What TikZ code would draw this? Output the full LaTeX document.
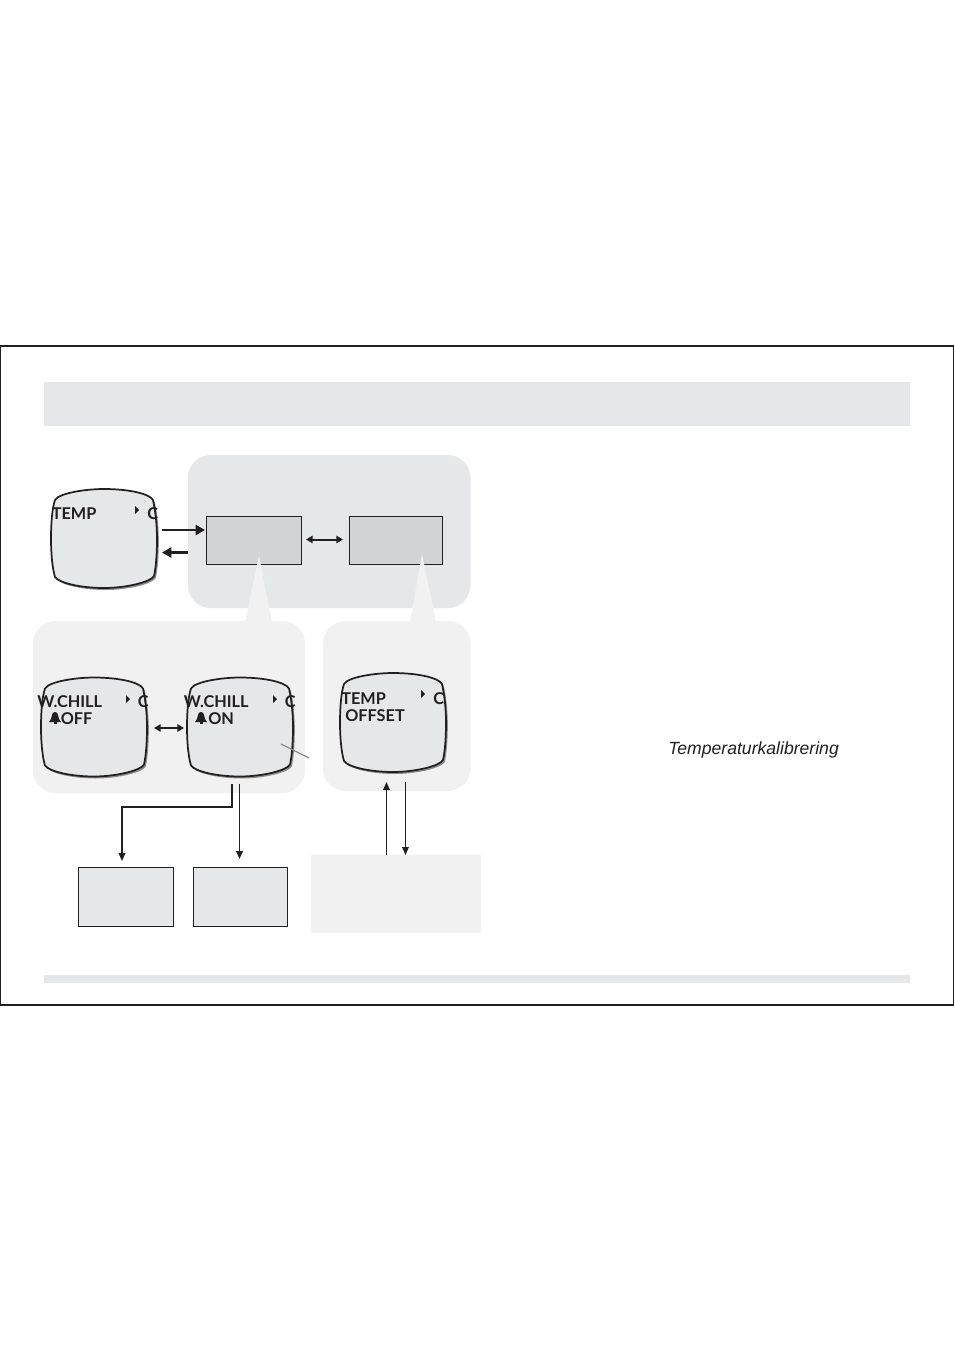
\documentclass[tikz,border=0pt]{standalone}
\usepackage{fontspec}
\setmainfont{Liberation Sans}
\newfontfamily\osdfont{Lato}[UprightFont=* Bold]
\usetikzlibrary{arrows.meta}
\definecolor{barg}{HTML}{E6E7E8}
\definecolor{midg}{HTML}{D1D3D4}
\definecolor{lightg}{HTML}{F1F1F2}
\definecolor{ink}{HTML}{231F20}
\tikzset{
  panelbox/.style={fill=#1,draw=none,rounded corners=17pt},
  menubox/.style={draw=ink,line width=1.1pt,fill=#1,inner sep=0,anchor=north west},
  osd/.style={font=\osdfont\fontsize{12.2pt}{13pt}\selectfont,text=ink,inner sep=0,anchor=base west},
  thickarrow/.style={draw=ink,line width=2.2pt,-{Triangle[length=7pt,width=7.5pt]}},
  dblarrow/.style={draw=ink,line width=1.5pt,{Triangle[length=5pt,width=5.5pt]}-{Triangle[length=5pt,width=5.5pt]}},
  thinarrow/.style={draw=ink,line width=0.9pt,-{Triangle[length=6pt,width=5pt]}},
}
\newcommand{\screenpath}{(4,11) .. controls (8,4) and (35,0) .. (53,0) .. controls (75,0) and (98,4) .. (102,11) .. controls (105,25) and (106,38) .. (106,50) .. controls (106,65) and (105,78) .. (103,87) .. controls (100,93) and (75,99) .. (53,99) .. controls (30,99) and (8,94) .. (4,88) .. controls (1,78) and (0,62) .. (0,50) .. controls (0,35) and (1,20) .. (4,11) -- cycle}
\newcommand{\monitor}[3]{%
  \begin{scope}[shift={(#2,#3)}]
    \fill[black!45] [shift={(1.8,2)}] \screenpath;
    \draw[draw=ink,line width=1.3pt,fill=barg] \screenpath;
    \coordinate (#1) at (53,50);
  \end{scope}}
\newcommand{\cursor}[2]{\fill[ink] (#1,#2) -- (#1+4,#2+4) -- (#1,#2+8) -- cycle;}
\newcommand{\bell}[2]{\fill[ink] (#1-6,#2+8) -- (#1+6,#2+8) -- (#1+4,#2+5) -- (#1+3,#2+1) arc (0:-180:3) -- (#1-4,#2+5) -- cycle; \fill[ink] (#1-1.5,#2+8) rectangle (#1+1.5,#2+10);}
\begin{document}
\begin{tikzpicture}[x=0.75pt,y=-0.75pt]
\useasboundingbox (0,0) rectangle (954,1351);
\fill[white] (0,0) rectangle (954,1351);
\draw[ink,line width=0.8pt] (0.5,346) rectangle (953.5,1005);
\fill[barg] (44,382) rectangle (910,425.5);
\fill[barg] (44,975) rectangle (910,983);
% panels
\fill[panelbox=barg] (188,455) rectangle (470.5,608);
\fill[panelbox=lightg] (33,621) rectangle (305,793);
\fill[panelbox=lightg] (323,621) rectangle (470.5,791);
% menu boxes
\node[menubox=midg,minimum width=71.25pt,minimum height=36pt] (boxa) at (206,516) {};
\node[menubox=midg,minimum width=69.75pt,minimum height=36pt] (boxb) at (349,516) {};
\node[menubox=barg,minimum width=71.25pt,minimum height=44.25pt] (boxc) at (78,867) {};
\node[menubox=barg,minimum width=70.5pt,minimum height=44.25pt] (boxd) at (193,867) {};
\node[fill=lightg,draw=none,inner sep=0,anchor=north west,minimum width=127.5pt,minimum height=58.5pt] (boxe) at (311,855) {};
% callouts
\fill[lightg] (259,556) -- (272,622) -- (245,622) -- cycle;
\fill[lightg] (422,554) -- (436,622) -- (410,622) -- cycle;
% monitors
\monitor{mona}{51}{489}
\monitor{monb}{41}{677.5}
\monitor{monc}{187}{677.5}
\monitor{mond}{340}{673}
% monitor text
\node[osd] (ta) at (51.5,519) {TEMP};
\node[osd] (tac) at (147,519) {C};
\cursor{135}{506}
\node[osd] (tb) at (37,707) {W.CHILL};
\node[osd] (tbc) at (137.5,707) {C};
\node[osd] (tbo) at (60.5,724) {OFF};
\cursor{126}{695}
\bell{55}{714}
\node[osd] (tc) at (183.5,707) {W.CHILL};
\node[osd] (tcc) at (284.5,707) {C};
\node[osd] (tco) at (208,724) {ON};
\cursor{273}{695}
\bell{201}{714}
\node[osd] (td) at (341,704) {TEMP};
\node[osd] (tdo) at (345,721) {OFFSET};
\node[osd] (tdc) at (433,704) {C};
\cursor{421}{690}
% connector ends
\coordinate (p1) at (162,530);
\coordinate (p2) at (205,530);
\coordinate (p3) at (188,552.5);
\coordinate (p4) at (162,552.5);
\coordinate (p5) at (306,539.5);
\coordinate (p6) at (343,539.5);
\coordinate (p7) at (154,728);
\coordinate (p8) at (184,728);
\coordinate (p9) at (232,784);
\coordinate (p10) at (122,807);
\coordinate (p11) at (122,861);
\coordinate (p12) at (239.5,784);
\coordinate (p13) at (239.5,859);
\coordinate (p14) at (386.5,855);
\coordinate (p15) at (386.5,782);
\coordinate (p16) at (405.5,782);
\coordinate (p17) at (405.5,855);
\coordinate (p18) at (281,744);
\coordinate (p19) at (309,758);
% connectors
\draw[thickarrow] (p1) -- (p2);
\draw[thickarrow] (p3) -- (p4);
\draw[dblarrow] (p5) -- (p6);
\draw[dblarrow] (p7) -- (p8);
\draw[thinarrow,line width=1.1pt] (p9) |- (p10) -- (p11);
\draw[thinarrow,line width=1.3pt] (p12) -- (p13);
\draw[thinarrow] (p14) -- (p15);
\draw[thinarrow] (p16) -- (p17);
\draw[draw=black!45,line width=1pt] (p18) -- (p19);
\node[inner sep=0,anchor=base west,font=\itshape\fontsize{13.2pt}{15pt}\selectfont,text=ink] (cal) at (668,754) {Temperaturkalibrering};
\end{tikzpicture}
\end{document}
